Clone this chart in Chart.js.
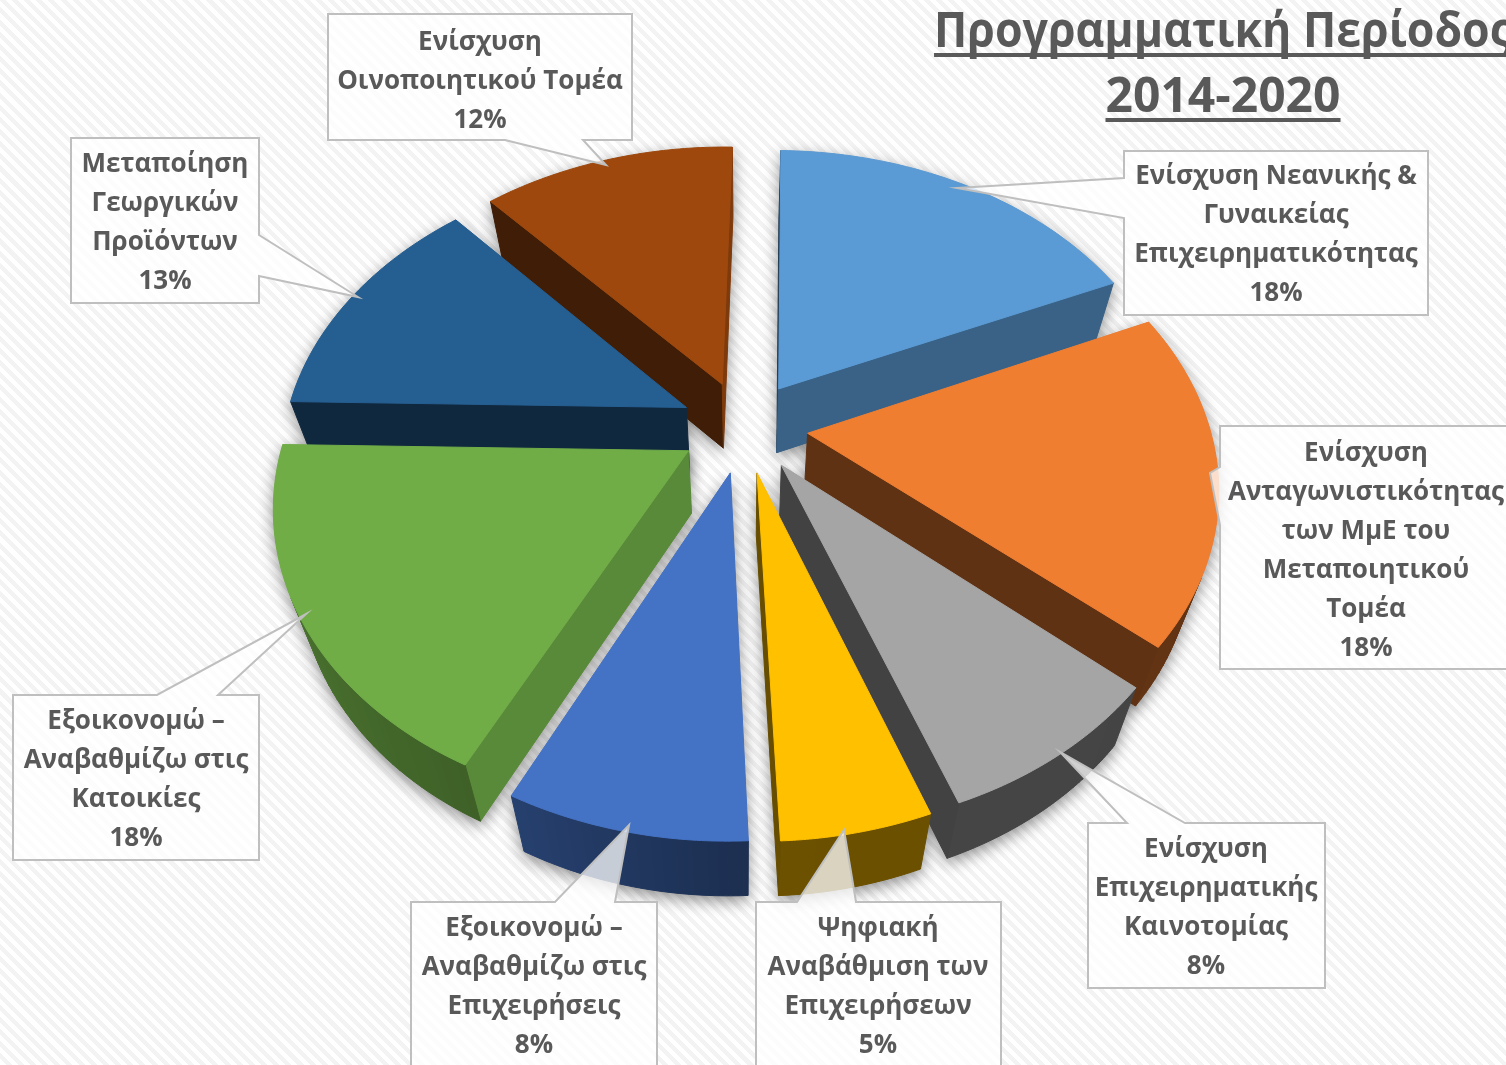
<!DOCTYPE html>
<html>
<head>
<meta charset="utf-8">
<script src="https://cdn.jsdelivr.net/npm/chart.js@4"></script>
<style>
	html, body { margin: 0; padding: 0; overflow: hidden; }
	body {
		width: 1506px; height: 1065px;
		background: repeating-linear-gradient(45deg, #ffffff 0, #ffffff 4.3px, #f3f3f3 4.3px, #f3f3f3 8.6px);
	}
	#pie { display: block; }
</style>
</head>
<body>
<canvas id="pie" width="1506" height="1065"></canvas>
<script>
var categories = [
	'Ενίσχυση Νεανικής & Γυναικείας Επιχειρηματικότητας',
	'Ενίσχυση Ανταγωνιστικότητας των ΜμΕ του Μεταποιητικού Τομέα',
	'Ενίσχυση Επιχειρηματικής Καινοτομίας',
	'Ψηφιακή Αναβάθμιση των Επιχειρήσεων',
	'Εξοικονομώ – Αναβαθμίζω στις Επιχειρήσεις',
	'Εξοικονομώ – Αναβαθμίζω στις Κατοικίες',
	'Μεταποίηση Γεωργικών Προϊόντων',
	'Ενίσχυση Οινοποιητικού Τομέα'
];
var values = [18, 18, 8, 5, 8, 18, 13, 12];
var sliceColors = ['#5b9bd5', '#f07e31', '#a5a5a5', '#ffc000', '#4472c4', '#70ad47', '#255e91', '#9e480e'];
var titleLines = ['Προγραμματική Περίοδος', '2014-2020'];

// label lines, one list per slice
var labelLines = [
	['Ενίσχυση Νεανικής &', 'Γυναικείας', 'Επιχειρηματικότητας'],
	['Ενίσχυση', 'Ανταγωνιστικότητας', 'των ΜμΕ του', 'Μεταποιητικού', 'Τομέα'],
	['Ενίσχυση', 'Επιχειρηματικής', 'Καινοτομίας'],
	['Ψηφιακή', 'Αναβάθμιση των', 'Επιχειρήσεων'],
	['Εξοικονομώ –', 'Αναβαθμίζω στις', 'Επιχειρήσεις'],
	['Εξοικονομώ –', 'Αναβαθμίζω στις', 'Κατοικίες'],
	['Μεταποίηση', 'Γεωργικών', 'Προϊόντων'],
	['Ενίσχυση', 'Οινοποιητικού Τομέα']
];

// callout boxes: box, centre of text, first line y, pointer (a,b on the box edge, tip)
var callouts = [
	{ box: [1124, 151, 1428, 315], cx: 1276, y: 177, edge: 'left', a: 178, b: 218, tip: [957, 188] },
	{ box: [1220, 426, 1530, 669], cx: 1366, y: 454, edge: 'left', a: 467, b: 525, tip: [1210, 473] },
	{ box: [1088, 823, 1325, 988], cx: 1206, y: 850, edge: 'top', a: 1127, b: 1185, tip: [1060, 752] },
	{ box: [756, 902, 1001, 1090], cx: 878, y: 929, edge: 'top', a: 797, b: 856, tip: [844, 830] },
	{ box: [411, 902, 657, 1090], cx: 534, y: 929, edge: 'top', a: 555, b: 615, tip: [629, 825] },
	{ box: [13, 695, 259, 860], cx: 136, y: 722, edge: 'top', a: 157, b: 218, tip: [306, 614] },
	{ box: [71, 138, 259, 303], cx: 165, y: 165, edge: 'right', a: 235, b: 276, tip: [358, 297] },
	{ box: [328, 14, 632, 140], cx: 480, y: 43, edge: 'bottom', a: 505, b: 583, tip: [606, 165] }
];

const TEXT_COLOR = '#595959';
const FONT = '"Open Sans", sans-serif';

// view of the pie plane
var view = { k: 0.71, xs: 0.985, dist: 2450, depth: 63 };

function project(cx, cy, u, v) {
	var s = view.dist / (view.dist - v);
	return [cx + u * s * view.xs, cy + view.k * v * s];
}

// bottom face point under a top face point, walls lean to the centre
function dropPoint(cx, cy, p) {
	return [p[0] - (p[0] - cx) * 0.055, p[1] + view.depth - (p[1] - cy) * 0.02];
}

function shadeColor(hex, f) {
	var n = parseInt(hex.slice(1), 16);
	return 'rgb(' + Math.round((n >> 16) * f) + ',' + Math.round(((n >> 8) & 255) * f) + ',' + Math.round((n & 255) * f) + ')';
}

function lerpShade(th, stops) {
	for (var i = 1; i < stops.length; i++) {
		if (th <= stops[i][0]) {
			var a = stops[i - 1], b = stops[i];
			return a[1] + (b[1] - a[1]) * (th - a[0]) / (b[0] - a[0]);
		}
	}
	return stops[stops.length - 1][1];
}

// th = wall normal, degrees clockwise from the top of the picture
function cutShade(th) {
	th = (th + 720) % 360;
	return lerpShade(th, [[0, 0.8], [116, 0.8], [156, 0.63], [182, 0.42], [221, 0.4], [360, 0.4]]);
}
function rimShade(th) {
	th = (th + 720) % 360;
	return lerpShade(th, [[0, 0.4], [180, 0.42], [206, 0.56], [272, 0.72], [360, 0.72]]);
}

function area(poly) {
	var a = 0;
	for (var i = 0; i < poly.length; i++) {
		var p = poly[i], q = poly[(i + 1) % poly.length];
		a += p[0] * q[1] - q[0] * p[1];
	}
	return a / 2;
}

function tracePoly(ctx, poly) {
	ctx.moveTo(poly[0][0], poly[0][1]);
	for (var i = 1; i < poly.length; i++) ctx.lineTo(poly[i][0], poly[i][1]);
	ctx.closePath();
}

function fillPoly(ctx, poly, color) {
	ctx.beginPath();
	tracePoly(ctx, poly);
	ctx.fillStyle = color;
	ctx.strokeStyle = color;
	ctx.lineWidth = 1;
	ctx.fill();
	ctx.stroke();
}

function sliceGeometry(arc) {
	var start = arc.startAngle, end = arc.endAngle, mid = (start + end) / 2;
	var off = arc.options.offset || 0;
	var ox = Math.cos(mid) * off, oy = Math.sin(mid) * off;
	var cx = arc.x, cy = arc.y, R = arc.outerRadius;
	var top = [project(cx, cy, ox, oy)];
	var steps = 48;
	for (var i = 0; i <= steps; i++) {
		var a = start + (end - start) * i / steps;
		top.push(project(cx, cy, ox + Math.cos(a) * R, oy + Math.sin(a) * R));
	}
	var walls = [];
	var n = top.length;
	var toDeg = 180 / Math.PI;
	for (var j = 0; j < n; j++) {
		var p = top[j], q = top[(j + 1) % n];
		var quad = [p, q, dropPoint(cx, cy, q), dropPoint(cx, cy, p)];
		// top face runs clockwise, a visible wall runs the other way
		if (area(quad) >= 0) continue;
		var deg, cut = false;
		if (j === 0) { deg = start * toDeg; cut = true; }
		else if (j === n - 1) { deg = end * toDeg + 180; cut = true; }
		else deg = (start + (end - start) * (j - 0.5) / steps) * toDeg + 90;
		walls.push({ quad: quad, cut: cut, deg: deg });
	}
	return { top: top, walls: walls, depthKey: oy };
}

var pie3d = {
	id: 'pie3d',
	beforeDatasetDraw: function (chart, args) {
		var ctx = chart.ctx;
		var arcs = chart.getDatasetMeta(args.index).data;
		var parts = arcs.map(function (arc) {
			var g = sliceGeometry(arc);
			g.color = arc.options.backgroundColor;
			return g;
		});
		parts.sort(function (a, b) { return a.depthKey - b.depthKey; });

		// soft shadow under everything
		ctx.save();
		ctx.shadowColor = 'rgba(0,0,0,0.45)';
		ctx.shadowBlur = 16;
		ctx.shadowOffsetX = 0;
		ctx.shadowOffsetY = 5;
		ctx.fillStyle = '#888';
		parts.forEach(function (g) {
			ctx.beginPath();
			tracePoly(ctx, g.top);
			g.walls.forEach(function (w) { tracePoly(ctx, w.quad.slice().reverse()); });
			ctx.fill();
		});
		ctx.restore();

		parts.forEach(function (g) {
			g.walls.forEach(function (w) {
				var f = w.cut ? cutShade(w.deg) : rimShade(w.deg);
				fillPoly(ctx, w.quad, shadeColor(g.color, f));
			});
			fillPoly(ctx, g.top, g.color);
		});
		return false;
	}
};

function calloutPath(ctx, c) {
	var x0 = c.box[0], y0 = c.box[1], x1 = c.box[2], y1 = c.box[3];
	ctx.beginPath();
	ctx.moveTo(x0, y0);
	if (c.edge === 'top') { ctx.lineTo(c.a, y0); ctx.lineTo(c.tip[0], c.tip[1]); ctx.lineTo(c.b, y0); }
	ctx.lineTo(x1, y0);
	if (c.edge === 'right') { ctx.lineTo(x1, c.a); ctx.lineTo(c.tip[0], c.tip[1]); ctx.lineTo(x1, c.b); }
	ctx.lineTo(x1, y1);
	if (c.edge === 'bottom') { ctx.lineTo(c.b, y1); ctx.lineTo(c.tip[0], c.tip[1]); ctx.lineTo(c.a, y1); }
	ctx.lineTo(x0, y1);
	if (c.edge === 'left') { ctx.lineTo(x0, c.b); ctx.lineTo(c.tip[0], c.tip[1]); ctx.lineTo(x0, c.a); }
	ctx.closePath();
}

var labelsAndTitle = {
	id: 'labelsAndTitle',
	afterDraw: function (chart) {
		var ctx = chart.ctx;
		ctx.save();
		ctx.textAlign = 'center';
		ctx.textBaseline = 'middle';
		callouts.forEach(function (c, i) {
			calloutPath(ctx, c);
			ctx.fillStyle = 'rgba(255,255,255,0.75)';
			ctx.fill();
			ctx.strokeStyle = '#bfbfbf';
			ctx.lineWidth = 2;
			ctx.stroke();

			ctx.fillStyle = TEXT_COLOR;
			ctx.font = '700 26px ' + FONT;
			var lines = labelLines[i].concat([values[i] + '%']);
			lines.forEach(function (t, n) {
				ctx.fillText(t, c.cx, c.y + n * 39);
			});
		});

		// title, narrowed a little and underlined by hand
		ctx.fillStyle = TEXT_COLOR;
		ctx.textBaseline = 'alphabetic';
		ctx.font = '700 48px ' + FONT;
		var narrow = [0.93, 1];
		titleLines.forEach(function (t, n) {
			var base = 47 + n * 65;
			ctx.save();
			ctx.translate(1223, base);
			ctx.scale(narrow[n], 1);
			ctx.fillText(t, 0, 0);
			var w = ctx.measureText(t).width;
			ctx.fillRect(-w / 2, 6, w, 4);
			ctx.restore();
		});
		ctx.restore();
	}
};

new Chart(document.getElementById('pie'), {
	type: 'pie',
	data: {
		labels: categories,
		datasets: [{
			data: values,
			backgroundColor: sliceColors,
			borderWidth: 0,
			radius: 408,
			offset: 65
		}]
	},
	options: {
		responsive: false,
		animation: false,
		rotation: 1.2,
		layout: { padding: { left: 316, right: 334, top: 0, bottom: 212 } },
		plugins: { legend: { display: false }, tooltip: { enabled: false } }
	},
	plugins: [pie3d, labelsAndTitle]
});
</script>
</body>
</html>
